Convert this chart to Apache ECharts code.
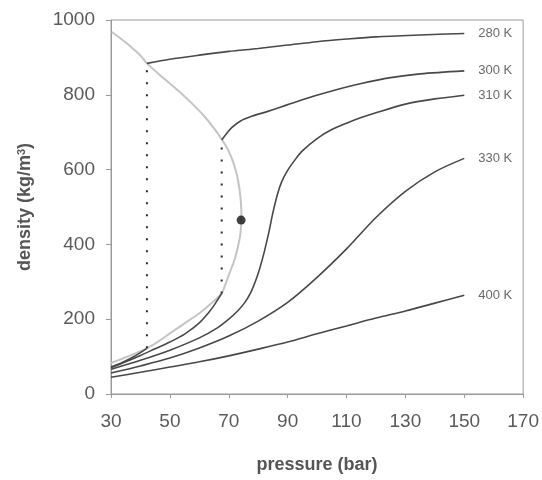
<!DOCTYPE html>
<html>
<head>
<meta charset="utf-8">
<script src="https://cdn.jsdelivr.net/npm/echarts@6/dist/echarts.min.js"></script>
<style>
  html, body { margin: 0; padding: 0; background: #fff; }
  #chart { width: 542px; height: 480px; }
</style>
</head>
<body>
<div id="chart"></div>
<script>
// CO2 isotherms, [pressure (bar), density (kg/m3)]
const t280Gas = [[30, 72], [34, 85], [38, 101], [42.2, 122]];
const t280Liq = [[42.2, 884], [50, 895], [60, 906], [70, 916], [80, 924], [90, 933], [100, 942], [110, 949], [120, 955], [135, 960], [150, 964]];
const t300Gas = [[30, 70], [35, 86], [40, 103], [45, 121], [50, 139], [55, 160], [60, 190], [63, 216], [65, 237], [67.6, 269]];
const t300Liq = [[67.6, 679], [69, 694], [71, 712], [74, 730], [78, 743], [83, 755], [88, 768], [95, 787], [105, 810], [115, 830], [125, 846], [135, 856], [150, 864]];
const t310 = [[30, 66], [40, 90], [50, 117], [60, 150], [66, 176], [70, 200], [73, 222], [75.5, 245], [77.5, 272], [79, 300], [80.5, 335], [82, 378], [83.5, 428], [85, 485], [86.5, 533], [88, 568], [90, 598], [92.5, 626], [95, 650], [100, 683], [105, 707], [110, 724], [115, 739], [120, 752], [130, 775], [140, 789], [150, 799]];
const t330 = [[30, 56], [40, 75], [50, 96], [60, 123], [70, 155], [80, 195], [90, 245], [100, 312], [110, 388], [120, 472], [130, 542], [140, 594], [150, 630]];
const t400 = [[30, 45], [40, 58], [50, 72], [60, 86], [70, 102], [80, 120], [90, 139], [100, 161], [110, 182], [120, 203], [130, 222], [140, 243], [150, 264]];

// saturation dome and critical point
const dome = [[30.3, 968], [35, 940], [40, 905], [42.2, 884], [46, 857], [50, 830], [54, 803], [58, 773], [62, 740], [65, 710], [67.6, 681], [69.8, 652], [71.5, 620], [72.8, 585], [73.6, 550], [74.1, 515], [74.3, 480], [74.2, 450], [73.8, 420], [73, 390], [71.8, 355], [70, 318], [67.6, 269], [64, 242], [60, 216], [55, 189], [50, 162], [46, 140], [42.2, 122], [38, 108], [34, 95], [30, 83]];
const criticalPoint = [[74.2, 465]];

// vertical two-phase lines
const tie280 = [[42.2, 122], [42.2, 884]];
const tie300 = [[67.6, 269], [67.6, 679]];

const isothermLabels = ['280 K', '300 K', '310 K', '330 K', '400 K'];

const chart = echarts.init(document.getElementById('chart'));

const curve = (data, label) => ({
  type: 'line',
  data: data,
  smooth: 0.3,
  showSymbol: false,
  silent: true,
  lineStyle: { color: '#484848', width: 1.6 },
  endLabel: label ? {
    show: true,
    formatter: label,
    distance: 14,
    color: '#6a6a6a',
    fontSize: 13,
    fontFamily: 'Liberation Sans'
  } : { show: false },
  z: 3
});

const tie = (data) => ({
  type: 'line',
  data: data,
  showSymbol: false,
  silent: true,
  lineStyle: { color: '#2a2a2a', width: 2, type: [2, 10] },
  z: 2
});

const option = {
  backgroundColor: '#fff',
  animation: false,
  grid: {
    left: 111, right: 17, top: 20, bottom: 86,
    show: true, borderColor: '#9a9a9a', borderWidth: 1
  },
  xAxis: {
    type: 'value',
    min: 30, max: 170, interval: 20,
    name: 'pressure (bar)',
    nameLocation: 'middle',
    nameGap: 62,
    nameTextStyle: { fontSize: 18, fontWeight: 'bold', color: '#555', fontFamily: 'Liberation Sans' },
    axisLine: { show: true, lineStyle: { color: '#9a9a9a' } },
    axisTick: { show: true, length: 4, lineStyle: { color: '#9a9a9a' } },
    axisLabel: { fontSize: 19, color: '#5a5a5a', margin: 18, fontFamily: 'Liberation Sans' },
    splitLine: { show: false }
  },
  yAxis: {
    type: 'value',
    min: 0, max: 1000, interval: 200,
    name: 'density (kg/m{sup|3})',
    nameLocation: 'middle',
    nameGap: 76,
    nameRotate: 90,
    nameTextStyle: {
      fontSize: 18, fontWeight: 'bold', color: '#555', fontFamily: 'Liberation Sans',
      rich: { sup: { fontSize: 11, fontWeight: 'bold', color: '#555', verticalAlign: 'top', padding: [0, 0, 8, 0] } }
    },
    axisLine: { show: true, lineStyle: { color: '#9a9a9a' } },
    axisTick: { show: true, length: 5, lineStyle: { color: '#9a9a9a' } },
    axisLabel: {
      fontSize: 19, color: '#5a5a5a', margin: 16, fontFamily: 'Liberation Sans',
      formatter: (v) => String(v)
    },
    splitLine: { show: false }
  },
  series: [
    {
      type: 'line',
      data: dome,
      smooth: 0.2,
      showSymbol: false,
      silent: true,
      lineStyle: { color: '#c4c4c4', width: 2 },
      z: 1
    },
    tie(tie280),
    tie(tie300),
    curve(t280Gas),
    curve(t280Liq, isothermLabels[0]),
    curve(t300Gas),
    curve(t300Liq, isothermLabels[1]),
    curve(t310, isothermLabels[2]),
    curve(t330, isothermLabels[3]),
    curve(t400, isothermLabels[4]),
    {
      type: 'scatter',
      data: criticalPoint,
      symbolSize: 9,
      itemStyle: { color: '#111' },
      silent: true,
      z: 4
    }
  ]
};

chart.setOption(option);
</script>
</body>
</html>
